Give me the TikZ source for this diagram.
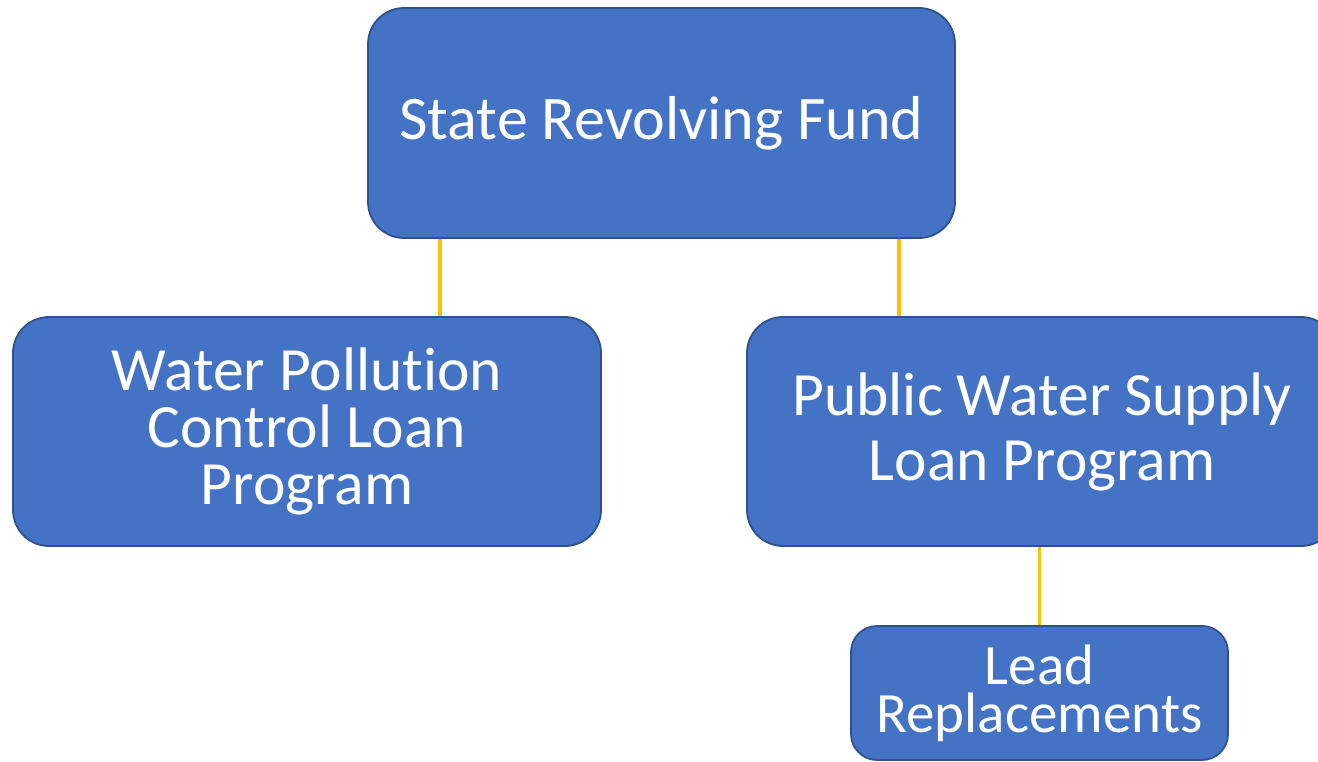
\documentclass[tikz,border=0pt]{standalone}
\usepackage{fontspec}
\setmainfont{Carlito}[Ligatures=NoCommon]
\definecolor{boxfill}{HTML}{4472C4}
\definecolor{boxline}{HTML}{2F528F}
\definecolor{linkline}{HTML}{FFC000}
\begin{document}
\begin{tikzpicture}[x=1pt,y=-1pt,
  orgbox/.style={draw=boxline, fill=boxfill, line width=1.8pt, rounded corners=36pt,
    text=white, align=center, inner sep=0pt},
  link/.style={draw=linkline, line width=3.6pt}]
\useasboundingbox (0,0) rectangle (1318,762);
\node[orgbox, minimum width=587pt, minimum height=230pt,
  font=\fontsize{62}{66}\selectfont] (srf) at (661.5,123) {State Revolving Fund};
\node[orgbox, minimum width=588pt, minimum height=229pt,
  font=\fontsize{61.5}{57}\selectfont] (wpc) at (307,431.5) {Water Pollution\\Control Loan\\Program};
\node[orgbox, minimum width=590pt, minimum height=229pt,
  font=\fontsize{61.5}{65}\selectfont] (pws) at (1042,431.5) {Public Water Supply\\Loan Program};
\node[orgbox, rounded corners=26pt, minimum width=377pt, minimum height=134pt,
  font=\fontsize{57}{48}\selectfont] (lead) at (1039.5,693) {Lead\\Replacements};
\draw[link] ([xshift=73pt]srf.south west) -- ([xshift=73pt]srf.south west |- wpc.north);
\draw[link] ([xshift=-57pt]srf.south east) -- ([xshift=-57pt]srf.south east |- pws.north);
\draw[link] (lead.north) -- (lead.north |- pws.south);
\end{tikzpicture}
\end{document}
